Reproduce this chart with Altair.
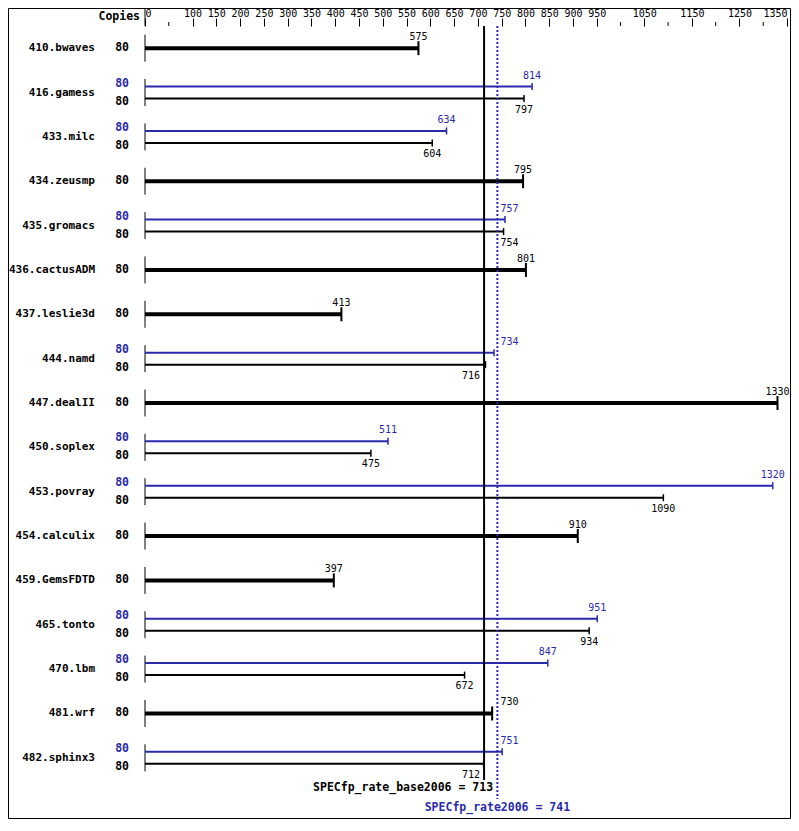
import altair as alt
import pandas as pd

# ---------------- data ----------------
benchmarks = ["410.bwaves", "416.gamess", "433.milc", "434.zeusmp", "435.gromacs",
              "436.cactusADM", "437.leslie3d", "444.namd", "447.dealII", "450.soplex",
              "453.povray", "454.calculix", "459.GemsFDTD", "465.tonto", "470.lbm",
              "481.wrf", "482.sphinx3"]
base_values = [575, 797, 604, 795, 754, 801, 413, 716, 1330, 475, 1090, 910, 397, 934, 672, 730, 712]
peak_values = [None, 814, 634, None, 757, None, None, 734, None, 511, 1320, None, None, 951, 847, None, 751]
base_copies = [80] * 17
peak_copies = [None, 80, 80, None, 80, None, None, 80, None, 80, 80, None, None, 80, 80, None, 80]
BASE_SCORE = 713
PEAK_SCORE = 741
major_ticks = [0, 100, 150, 200, 250, 300, 350, 400, 450, 500, 550, 600, 650, 700, 750,
               800, 850, 900, 950, 1050, 1150, 1250, 1350]
minor_ticks = [50, 1000, 1100, 1200, 1300]
X_MAX = 1350

# ---------------- layout / style ----------------
ROWS = len(benchmarks)
PLOT_W = 642
PLOT_H = 754
ROW_PX = PLOT_H / ROWS
PAD = {"left": 137, "top": 18, "right": 4, "bottom": 39}
BLUE = "#2a2aae"
MONO = "DejaVu Sans Mono"


def r(px):
    return px / ROW_PX


records = []
for i, (name, b, p, bc, pc) in enumerate(zip(benchmarks, base_values, peak_values, base_copies, peak_copies)):
    if p is None:
        records.append(dict(row=i, name=name, lane="single", value=b, copies=bc))
    else:
        records.append(dict(row=i, name=name, lane="peak", value=p, copies=pc))
        records.append(dict(row=i, name=name, lane="base", value=b, copies=bc))
df = pd.DataFrame(records)

xscale = alt.Scale(domain=[0, X_MAX], nice=False, zero=False)
yscale = alt.Scale(domain=[-0.5, ROWS - 0.5], reverse=True, nice=False, zero=False)
xaxis = alt.Axis(orient="top", values=major_ticks, format="d", domain=False, grid=False, tickSize=8,
                 tickColor="black", tickWidth=1, labelFont=MONO, labelFontSize=10,
                 labelColor="black", labelFlush=True, labelPadding=0, labelOverlap=False,
                 title=None)

base = alt.Chart(df).transform_calculate(
    zero="0",
    pos=f"datum.row + (datum.lane == 'peak' ? {-r(6)} : datum.lane == 'base' ? {r(6)} : 0)",
    col=f"datum.lane == 'peak' ? '{BLUE}' : 'black'",
    sw="datum.lane == 'single' ? 4 : 2",
    tw="datum.lane == 'single' ? 2 : 1.5",
    s1=f"datum.row - {r(13.5)}",
    s2=f"datum.row + {r(13.5)}",
).transform_calculate(
    t1=f"datum.pos - (datum.lane == 'single' ? {r(7)} : {r(3.5)})",
    t2=f"datum.pos + (datum.lane == 'single' ? {r(7)} : {r(3.5)})",
    cpos=f"datum.row + (datum.lane == 'peak' ? {-r(9)} : datum.lane == 'base' ? {r(9)} : 0)",
    lpos=f"datum.pos + (datum.lane == 'base' ? {r(11)} : {-r(11)})",
    anchor=(f"(datum.value - 20 <= {PEAK_SCORE} && datum.value + 20 >= {PEAK_SCORE}) ? 'after' : "
            f"((datum.value - 20 <= {BASE_SCORE} && datum.value + 20 >= {BASE_SCORE}) ? 'before' : 'center')"),
).transform_calculate(
    lx=f"datum.anchor == 'after' ? {PEAK_SCORE} : datum.anchor == 'before' ? {BASE_SCORE} : datum.value",
)

X = lambda f: alt.X(f, scale=xscale, axis=xaxis)
Y = lambda f: alt.Y(f, scale=yscale, axis=None)

sep = base.transform_filter("datum.lane != 'base'").mark_rule(color="black", strokeWidth=1).encode(
    x=X("zero:Q"), y=Y("s1:Q"), y2="s2:Q")

bars = base.mark_rule().encode(
    x=X("zero:Q"), x2="value:Q", y=Y("pos:Q"),
    color=alt.Color("col:N", scale=None), size=alt.Size("sw:Q", scale=None))

ends = base.mark_rule().encode(
    x=X("value:Q"), y=Y("t1:Q"), y2="t2:Q",
    color=alt.Color("col:N", scale=None), size=alt.Size("tw:Q", scale=None))


def vlabels(anchor, align, dx):
    return base.transform_filter(f"datum.anchor == '{anchor}'").mark_text(
        align=align, baseline="middle", dx=dx, font=MONO, fontSize=10).encode(
        x=X("lx:Q"), y=Y("lpos:Q"), text="value:Q", color=alt.Color("col:N", scale=None))


lab_c = vlabels("center", "center", 0)
lab_a = vlabels("after", "left", 3)
lab_b = vlabels("before", "right", -4)

names = base.transform_filter("datum.lane != 'base'").mark_text(
    align="right", baseline="middle", font=MONO, fontSize=11, fontWeight="bold", color="black").encode(
    x=alt.value(-50), y=Y("row:Q"), text="name:N")

copies = base.mark_text(
    align="right", baseline="middle", font=MONO, fontSize=11.5, fontWeight="bold").encode(
    x=alt.value(-16), y=Y("cpos:Q"), text="copies:Q", color=alt.Color("col:N", scale=None))

score_df = pd.DataFrame({"v": [BASE_SCORE, PEAK_SCORE], "kind": ["base", "peak"],
                         "label": [f"SPECfp_rate_base2006 = {BASE_SCORE}", f"SPECfp_rate2006 = {PEAK_SCORE}"]})
sc = alt.Chart(score_df)
base_line = sc.transform_filter("datum.kind == 'base'").mark_rule(color="black", strokeWidth=2).encode(
    x=X("v:Q"), y=alt.value(0), y2=alt.value(PLOT_H))
peak_line = sc.transform_filter("datum.kind == 'peak'").mark_rule(color=BLUE, strokeWidth=2, strokeDash=[2, 2]).encode(
    x=X("v:Q"), y=alt.value(0), y2=alt.value(PLOT_H + 19))
base_lab = sc.transform_filter("datum.kind == 'base'").mark_text(
    align="right", baseline="middle", dx=9, font=MONO, fontSize=11.5, fontWeight="bold", color="black").encode(
    x=X("v:Q"), y=alt.value(PLOT_H + 8), text="label:N")
peak_lab = sc.transform_filter("datum.kind == 'peak'").mark_text(
    align="center", baseline="middle", font=MONO, fontSize=11.5, fontWeight="bold", color=BLUE).encode(
    x=X("v:Q"), y=alt.value(PLOT_H + 28), text="label:N")

minor = alt.Chart(pd.DataFrame({"v": minor_ticks})).mark_rule(color="black", strokeWidth=1).encode(
    x=X("v:Q"), y=alt.value(-4), y2=alt.value(0))
origin_line = alt.Chart(pd.DataFrame({"v": [0]})).mark_rule(color="black", strokeWidth=1).encode(
    x=X("v:Q"), y=alt.value(-PAD["top"]), y2=alt.value(0))

header = alt.Chart(pd.DataFrame({"t": ["Copies"]})).mark_text(
    align="right", baseline="middle", font=MONO, fontSize=11.5, fontWeight="bold", color="black").encode(
    x=alt.value(-5), y=alt.value(-9), text="t:N")

frame = alt.Chart(pd.DataFrame({"t": [0]})).mark_rect(
    fill="white", fillOpacity=0, stroke="black", strokeWidth=1).encode(
    x=alt.value(-PAD["left"] + 0.5), x2=alt.value(PLOT_W + PAD["right"] - 0.5),
    y=alt.value(-PAD["top"] + 0.5), y2=alt.value(PLOT_H + PAD["bottom"] - 0.5))

chart = alt.layer(
    frame, sep, bars, ends, base_line, peak_line, lab_c, lab_a, lab_b, names, copies,
    base_lab, peak_lab, minor, origin_line, header
).properties(
    width=PLOT_W, height=PLOT_H, padding=PAD, background="white",
    autosize=alt.AutoSizeParams(type="none")
).configure_view(stroke=None)

chart.save("out.html", embed_options={"renderer": "svg", "actions": False})
